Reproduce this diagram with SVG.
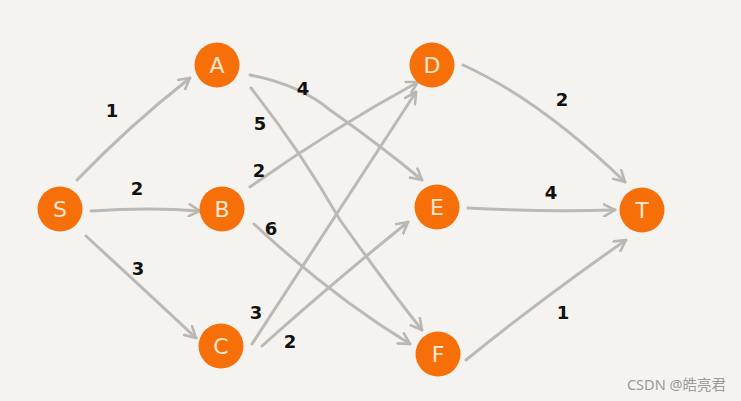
<svg xmlns="http://www.w3.org/2000/svg" width="741" height="401" viewBox="0 0 741 401">
<defs>
<marker id="ah" viewBox="0 0 14 14" refX="12" refY="7" markerWidth="14" markerHeight="14" markerUnits="userSpaceOnUse" orient="auto">
<path d="M1,1 L12,7 L1,13" fill="none" stroke="#b8b7b2" stroke-width="2.6" stroke-linecap="round" stroke-linejoin="round"/>
</marker>
<style>
.e{fill:none;stroke:#bab9b4;stroke-width:3;stroke-linecap:round;marker-end:url(#ah)}
.n circle{fill:#f76f09}
.n text{fill:#fbe8d2;font-family:"DejaVu Sans",sans-serif;font-size:22px;text-anchor:middle;dominant-baseline:central}
.w{fill:#111;font-family:"DejaVu Sans",sans-serif;font-weight:bold;font-size:18px;text-anchor:middle;dominant-baseline:central}
</style>
</defs>
<rect width="741" height="401" fill="#f5f3ef"/>
<g id="connectors">
<path class="e" d="M77,180 Q130,125 190,78"/>
<path class="e" d="M91,211 Q150,207 200,211"/>
<path class="e" d="M86,236 Q150,295 196,338"/>
<path class="e" d="M250,75 Q300,85 330,110 Q380,145 422,180"/>
<path class="e" d="M251,88 Q300,150 340,220 Q390,290 422,330"/>
<path class="e" d="M250,187 Q330,130 418,82"/>
<path class="e" d="M254,224 Q330,295 410,344"/>
<path class="e" d="M252,344 Q320,240 416,92"/>
<path class="e" d="M262,346 Q330,285 408,222"/>
<path class="e" d="M463,65 Q540,100 625,182"/>
<path class="e" d="M468,208 Q540,212 615,210"/>
<path class="e" d="M466,360 Q540,300 626,240"/>
</g>
<g id="labels">
<text class="w" x="112" y="110">1</text>
<text class="w" x="137" y="188">2</text>
<text class="w" x="138" y="268">3</text>
<text class="w" x="303" y="88">4</text>
<text class="w" x="260" y="123">5</text>
<text class="w" x="259" y="170">2</text>
<text class="w" x="271" y="228">6</text>
<text class="w" x="256" y="312">3</text>
<text class="w" x="290" y="341">2</text>
<text class="w" x="562" y="99">2</text>
<text class="w" x="551" y="192">4</text>
<text class="w" x="563" y="312">1</text>
</g>
<g id="S" class="n"><circle cx="60" cy="209" r="22.5"/><text x="60" y="209">S</text></g>
<g id="A" class="n"><circle cx="217" cy="65" r="22.5"/><text x="217" y="65">A</text></g>
<g id="B" class="n"><circle cx="222" cy="209" r="22.5"/><text x="222" y="209">B</text></g>
<g id="C" class="n"><circle cx="221" cy="346" r="22.5"/><text x="221" y="346">C</text></g>
<g id="D" class="n"><circle cx="432" cy="65" r="22.5"/><text x="432" y="65">D</text></g>
<g id="E" class="n"><circle cx="437" cy="207" r="22.5"/><text x="437" y="207">E</text></g>
<g id="F" class="n"><circle cx="438" cy="354" r="22.5"/><text x="438" y="354">F</text></g>
<g id="T" class="n"><circle cx="642" cy="210" r="22.5"/><text x="642" y="210">T</text></g>
<text x="726" y="390" fill="#9a9a9a" font-family="'Noto Sans','Noto Sans CJK SC',sans-serif" font-size="14.5" text-anchor="end">CSDN @皓亮君</text>
</svg>
